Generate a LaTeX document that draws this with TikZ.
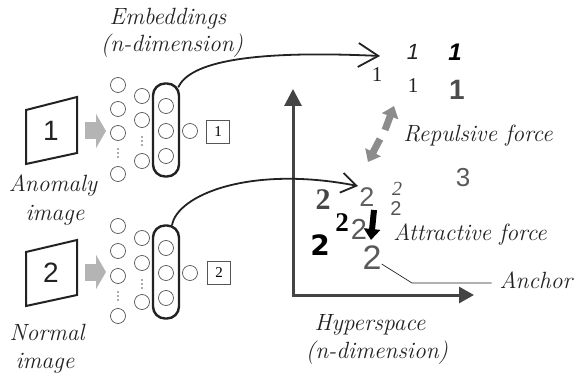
\documentclass[tikz,border=0pt]{standalone}
\usepackage{fontspec}
\newfontfamily\lsans{Liberation Sans}
\newfontfamily\lserif{Liberation Serif}
\newfontfamily\dvsans{DejaVu Sans}
\usetikzlibrary{arrows.meta,calc}
\definecolor{ink}{HTML}{222222}
\definecolor{neur}{HTML}{555555}
\definecolor{blockgray}{HTML}{B4B4B4}
\definecolor{repgray}{HTML}{8C8C8C}
\definecolor{axisgray}{HTML}{444444}
\begin{document}
\begin{tikzpicture}[x=1pt,y=-1pt,
  neuron/.style={circle,draw=neur,line width=0.7pt,minimum size=15pt,inner sep=0pt},
  embbox/.style={draw=ink,line width=2.4pt,rounded corners=12pt,minimum width=26pt,minimum height=93pt,inner sep=0pt},
  outbox/.style={draw=neur,line width=0.7pt,minimum width=23pt,minimum height=23pt,inner sep=0pt,font=\lserif\fontsize{15}{15}\selectfont},
  lbl/.style={font=\fontsize{23.5}{26}\selectfont\itshape,text=ink,inner sep=0pt,anchor=base},
  frame/.style={draw=ink,line width=2pt,line join=miter},
  imgdigit/.style={font=\lsans\fontsize{28}{28}\selectfont,text=ink,inner sep=0pt},
  garrow/.style={draw=blockgray,line width=17pt,-{Triangle[length=10pt,width=34pt]}},
  curvearrow/.style={draw=ink,line width=1.8pt},
  repel/.style={draw=repgray,line width=7pt,-{Triangle[length=11pt,width=17pt]}},
  attract/.style={draw=black,line width=6pt,-{Triangle[length=11pt,width=16pt]}},
  axis/.style={draw=axisgray,line width=3pt,line join=miter},
  dig/.style={inner sep=0pt}
]
\useasboundingbox (0,0) rectangle (575,374);

% ---------- anomaly image ----------
\draw[frame] (26,110) -- (77,97) -- (77,153) -- (26,164) -- cycle;
\node[imgdigit] (img1) at (51,131) {1};
\node[lbl] (an1) at (53,191) {Anomaly};
\node[lbl] (an2) at (55,220) {image};
\coordinate (ga1s) at (85,131);
\coordinate (ga1e) at (106,131);
\draw[garrow] (ga1s) -- (ga1e);

% network 1
\foreach \y/\n in {85/a,109/b,133/c,174/d} \node[neuron] (n1l1\n) at (118,\y) {};
\foreach \y/\n in {96/a,120/b,161/c} \node[neuron] (n1l2\n) at (142,\y) {};
\foreach \y/\n in {106/a,131/b,156/c} \node[neuron] (n1l3\n) at (166,\y) {};
\node[embbox] (emb1) at (166,130) {};
\node[neuron] (n1o) at (190,131) {};
\node[outbox] (o1) at (218,132) {1};
\foreach \d in {-4,0,4} {
  \fill[neur] (118,153+\d) circle[radius=0.9pt];
  \fill[neur] (142,141+\d) circle[radius=0.9pt];
}
\node[lbl] (embt) at (168,25) {Embeddings};
\node[lbl] (embt2) at (172,52) {(n-dimension)};

% ---------- normal image ----------
\draw[frame] (26,252) -- (77,240) -- (77,295) -- (26,306) -- cycle;
\node[imgdigit] (img2) at (51,273) {2};
\node[lbl] (no1) at (47,340) {Normal};
\node[lbl] (no2) at (45,368) {image};
\coordinate (ga2s) at (85,272);
\coordinate (ga2e) at (106,272);
\draw[garrow] (ga2s) -- (ga2e);

% network 2
\foreach \y/\n in {226/a,251/b,276/c,316/d} \node[neuron] (n2l1\n) at (118,\y) {};
\foreach \y/\n in {238/a,263/b,302/c} \node[neuron] (n2l2\n) at (142,\y) {};
\foreach \y/\n in {248/a,273/b,298/c} \node[neuron] (n2l3\n) at (166,\y) {};
\node[embbox] (emb2) at (166,272) {};
\node[neuron] (n2o) at (190,273) {};
\node[outbox] (o2) at (219,273) {2};
\foreach \d in {-4,0,4} {
  \fill[neur] (118,296+\d) circle[radius=0.9pt];
  \fill[neur] (142,284+\d) circle[radius=0.9pt];
}

% ---------- hyperspace axes ----------
\coordinate (orig) at (293,295);
\coordinate (ytip) at (293,89);
\coordinate (xtip) at (474,295);
\draw[axis,{Triangle[length=17pt,width=17pt]}-{Triangle[length=15pt,width=16pt]}] (ytip) -- (orig) -- (xtip);
\node[lbl] (hyp) at (370,330) {Hyperspace};
\node[lbl] (hyp2) at (377,358) {(n-dimension)};

% ---------- embedded points: ones ----------
\node[dig,font=\lsans\itshape\fontsize{22}{22}\selectfont,text=ink] (p1a) at (413,52) {1};
\node[dig,font=\lsans\bfseries\itshape\fontsize{24}{24}\selectfont,text=black] (p1b) at (455,52) {1};
\node[dig,font=\lserif\fontsize{21}{21}\selectfont,text=ink] (p1c) at (377,75) {1};
\node[dig,font=\lserif\fontsize{21}{21}\selectfont,text=ink] (p1d) at (413,86) {1};
\node[dig,font=\lsans\bfseries\fontsize{28}{28}\selectfont,text=gray!60!black] (p1e) at (457,90) {1};
\node[dig,font=\lsans\fontsize{26}{26}\selectfont,text=gray!70!black] (p3) at (463,178) {3};

% ---------- twos ----------
\node[dig,font=\lserif\bfseries\fontsize{30}{30}\selectfont,text=gray!55!black] (p2a) at (323,200) {2};
\node[dig,font=\lsans\fontsize{27}{27}\selectfont,text=gray!75!black] (p2b) at (367,197) {2};
\node[dig,font=\lserif\itshape\fontsize{20}{20}\selectfont,text=gray!65!black] (p2c) at (397,189) {2};
\node[dig,font=\lsans\fontsize{20}{20}\selectfont,text=gray!65!black] (p2d) at (396,209) {2};
\node[dig,font=\lserif\bfseries\fontsize{27}{27}\selectfont,text=black] (p2e) at (342,223) {2};
\node[dig,font=\lsans\fontsize{29}{29}\selectfont,text=gray!70!black] (p2f) at (359,229) {2};
\node[dig,font=\dvsans\bfseries\fontsize{28}{28}\selectfont,text=black] (p2g) at (320,245) {2};
\node[dig,font=\lsans\fontsize{34}{34}\selectfont,text=gray!70!black] (anc) at (372,258) {2};

% ---------- forces ----------
\coordinate (rtop) at (394,106);
\coordinate (rg1) at (385,130);
\coordinate (rg2) at (380,139);
\coordinate (rbot) at (368,162);
\draw[repel] (rg1) -- (rtop);
\draw[repel] (rg2) -- (rbot);
\node[lbl] (rept) at (478,142) {Repulsive force};

\coordinate (as) at (374,210);
\coordinate (ae) at (371,240);
\draw[attract] (as) -- (ae);
\node[lbl] (attt) at (470,240) {Attractive force};

\node[lbl] (anct) at (536,288) {Anchor};
\draw[ink,line width=0.7pt] ([shift={(0pt,-6pt)}]anc.east) -- (412,283) -- ([xshift=-8pt,yshift=5pt]anct.base west);

% ---------- mapping curves ----------
\coordinate (t1) at (380,56);
\draw[curvearrow,-{Straight Barb[length=20pt,width=24pt,line width=1.8pt]}] ([shift={(-2pt,-5pt)}]emb1.north east) .. controls (190,62) and (250,50) .. (t1);
\coordinate (t2) at (358,186);
\draw[curvearrow,-{Straight Barb[length=15pt,width=20pt,line width=1.8pt]}] ([xshift=6pt,yshift=-1pt]emb2.north) .. controls (177,195) and (250,165) .. (t2);
\end{tikzpicture}
\end{document}
